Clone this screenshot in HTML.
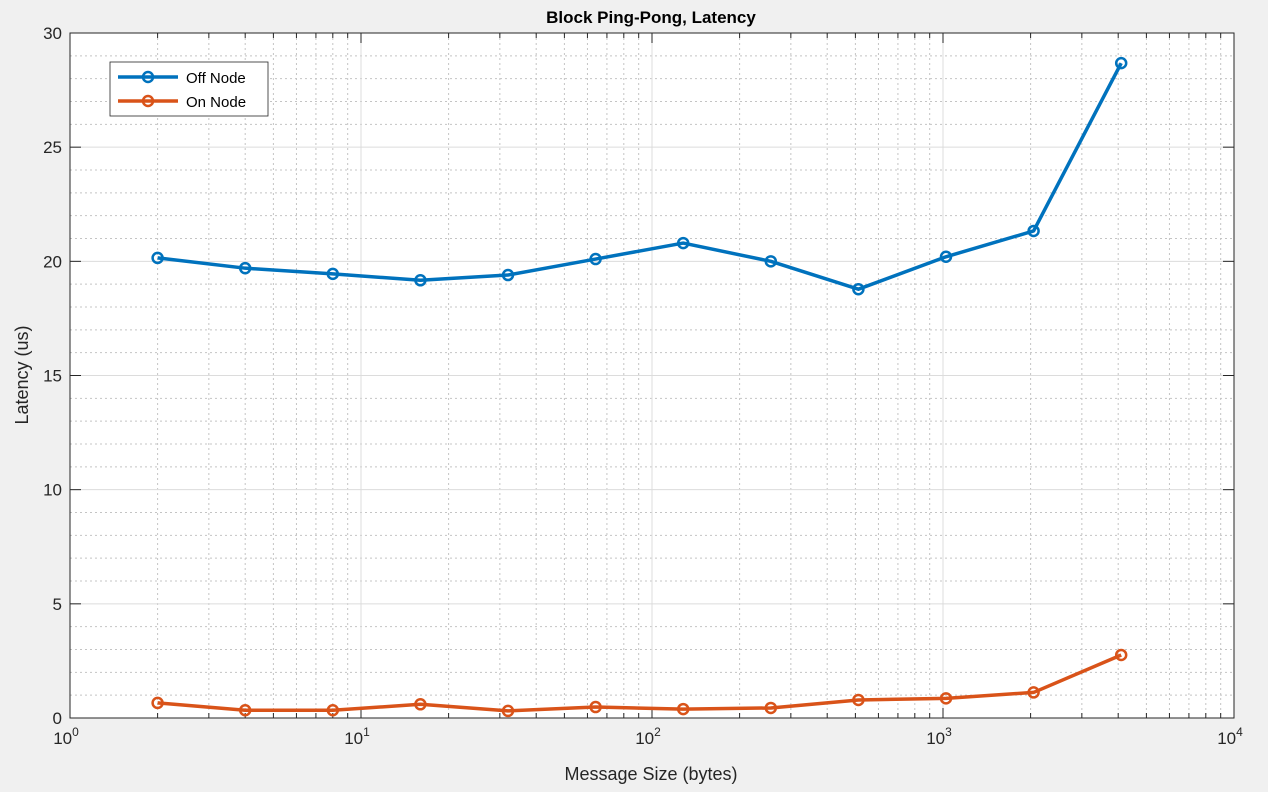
<!DOCTYPE html>
<html><head><meta charset="utf-8"><style>
html,body{margin:0;padding:0;background:#f0f0f0;}
svg{display:block;font-family:"Liberation Sans",Arial,sans-serif;}
</style></head><body>
<svg id="chart" width="1268" height="792" viewBox="0 0 1268 792" xmlns="http://www.w3.org/2000/svg">
<rect x="0" y="0" width="1268" height="792" fill="#f0f0f0"/>
<rect x="70" y="33" width="1164" height="685" fill="#ffffff"/>
<g id="grid"></g>
<g id="axes"></g>
<g id="series"></g>
<text x="651" y="23" text-anchor="middle" font-size="17" font-weight="bold" fill="#000">Block Ping-Pong, Latency</text>
<text x="651" y="780" text-anchor="middle" font-size="18" fill="#262626">Message Size (bytes)</text>
<text transform="translate(28,375) rotate(-90)" text-anchor="middle" font-size="18" fill="#262626">Latency (us)</text>
<g>
<rect x="110" y="62" width="158" height="54" fill="#fff" stroke="#262626" stroke-width="0.8"/>
<g>
<line x1="118" y1="77" x2="178" y2="77" stroke="#0072bd" stroke-width="3.5"/>
<circle cx="148" cy="77" r="5" fill="none" stroke="#0072bd" stroke-width="2.5"/>
<text x="186" y="83" font-size="15" fill="#000">Off Node</text></g>
<g>
<line x1="118" y1="101" x2="178" y2="101" stroke="#d95319" stroke-width="3.5"/>
<circle cx="148" cy="101" r="5" fill="none" stroke="#d95319" stroke-width="2.5"/>
<text x="186" y="107" font-size="15" fill="#000">On Node</text></g>
</g>
</svg>
<script>
const messageSizes=[2,4,8,16,32,64,128,256,512,1024,2048,4096];
const offNode=[20.15,19.7,19.45,19.17,19.4,20.1,20.8,20.0,18.78,20.2,21.33,28.68];
const onNode=[0.66,0.34,0.34,0.6,0.31,0.48,0.39,0.44,0.79,0.86,1.12,2.76];
const yTicks=[0,5,10,15,20,25,30];
const xDecades=[0,1,2,3,4];

const NS="http://www.w3.org/2000/svg";
const L=70,R=1234,T=33,B=718;
const xs=v=>L+(Math.log10(v)-0)/4*(R-L);
const ys=v=>B-v/30*(B-T);
function mk(tag,attrs,parent){const e=document.createElementNS(NS,tag);for(const k in attrs)e.setAttribute(k,attrs[k]);parent.appendChild(e);return e;}
const grid=document.getElementById('grid'),axes=document.getElementById('axes'),series=document.getElementById('series');

for(let d=0;d<4;d++)for(let m=2;m<=9;m++){const x=xs(m*Math.pow(10,d));
const g=mk('line',{x1:x,x2:x,y1:T,y2:B,stroke:'#c4c4c4','stroke-width':1,'stroke-dasharray':'2,3'},grid);


const t1=mk('line',{x1:x,x2:x,y1:B,y2:B-5,stroke:'#262626','stroke-width':1},axes);


const t2=mk('line',{x1:x,x2:x,y1:T,y2:T+5,stroke:'#262626','stroke-width':1},axes);

}
for(let v=0;v<30;v+=1){if(v%5===0)continue;const y=ys(v);
const g=mk('line',{x1:L,x2:R,y1:y,y2:y,stroke:'#c4c4c4','stroke-width':1,'stroke-dasharray':'2,3'},grid);

}
xDecades.forEach(d=>{const x=xs(Math.pow(10,d));
const g=mk('line',{x1:x,x2:x,y1:T,y2:B,stroke:'#dcdcdc','stroke-width':1},grid);


const t1=mk('line',{x1:x,x2:x,y1:B,y2:B-10,stroke:'#262626','stroke-width':1},axes);


const t2=mk('line',{x1:x,x2:x,y1:T,y2:T+10,stroke:'#262626','stroke-width':1},axes);


const t=mk('text',{x:x-4,y:744,'text-anchor':'middle','font-size':17,fill:'#262626'},axes);


t.textContent='10';
const s=mk('tspan',{dy:-8,'font-size':12},t);s.textContent=String(d);});
yTicks.forEach(v=>{const y=ys(v);
const g=mk('line',{x1:L,x2:R,y1:y,y2:y,stroke:'#dcdcdc','stroke-width':1},grid);


const t1=mk('line',{x1:L,x2:L+11,y1:y,y2:y,stroke:'#262626','stroke-width':1},axes);


const t2=mk('line',{x1:R,x2:R-11,y1:y,y2:y,stroke:'#262626','stroke-width':1},axes);


const t=mk('text',{x:L-8,y:y+6,'text-anchor':'end','font-size':17,fill:'#262626'},axes);


t.textContent=String(v);});
const box=mk('rect',{x:L,y:T,width:R-L,height:B-T,fill:'none',stroke:'#262626','stroke-width':1},axes);



function drawSeries(vals,color,name){
const pts=messageSizes.map((m,i)=>xs(m)+','+ys(vals[i])).join(' ');
const pl=mk('polyline',{points:pts,fill:'none',stroke:color,'stroke-width':3.5,'stroke-linejoin':'round'},series);


messageSizes.forEach((m,i)=>{const c=mk('circle',{cx:xs(m),cy:ys(vals[i]),r:5,fill:'none',stroke:color,'stroke-width':2.5},series);

});}
drawSeries(offNode,'#0072bd','off-node');
drawSeries(onNode,'#d95319','on-node');
</script>
</body></html>
